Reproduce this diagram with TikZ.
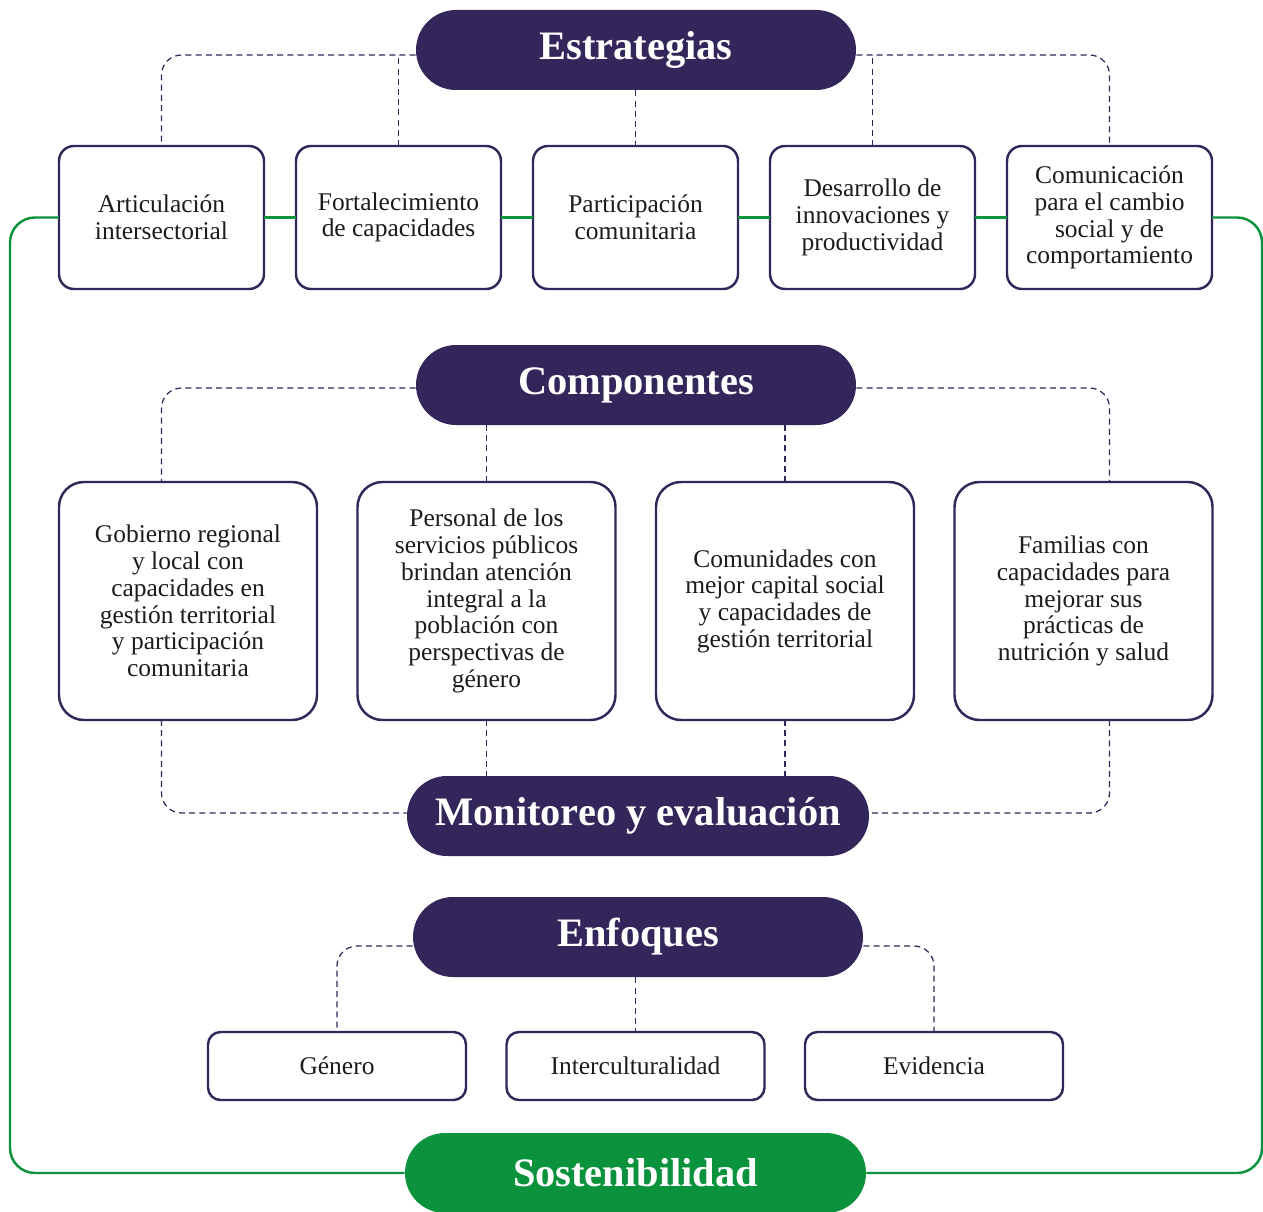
\documentclass[tikz,border=0pt]{standalone}
\usepackage{fontspec}
\setmainfont{Liberation Serif}
\usepackage{tikz}
\usetikzlibrary{calc,positioning}
\definecolor{inkpurple}{HTML}{33265B}
\definecolor{leafgreen}{HTML}{0A923C}
\definecolor{bodyink}{HTML}{1C1C1C}

\begin{document}
\begin{tikzpicture}[node distance=0.64cm and 0.64cm,
    pill/.style={rounded corners=0.8cm,fill=inkpurple,text=white,inner sep=0pt,
      minimum height=1.6cm,font=\fontsize{23}{26}\selectfont\bfseries},
    infobox/.style={draw=inkpurple,line width=1.4pt,fill=white,text=bodyink,outer sep=0pt,
      align=center,inner sep=2pt,font=\fontsize{14.5}{15.2}\selectfont},
    stratbox/.style={infobox,rounded corners=0.3cm,minimum width=4.1cm,minimum height=2.86cm},
    compbox/.style={infobox,rounded corners=0.5cm,minimum width=5.16cm,minimum height=4.76cm},
    focusbox/.style={infobox,rounded corners=0.25cm,minimum width=5.16cm,minimum height=1.36cm},
    dashline/.style={draw=inkpurple,line width=0.7pt,dash pattern=on 3.4pt off 2.4pt,rounded corners=0.4cm},
    greenline/.style={draw=leafgreen,line width=1.4pt,rounded corners=0.5cm}]
    \useasboundingbox (0,0) rectangle (25.26,-24.22);
    % titles
    \node[pill,minimum width=8.8cm] (estr) at (12.72,-1.0) {Estrategias};
    \node[pill,minimum width=8.8cm] (comp) at (12.72,-7.7) {Componentes};
    \node[pill,minimum width=9.24cm] (mon) at (12.76,-16.32) {Monitoreo y evaluación};
    \node[pill,minimum width=9.0cm] (enf) at (12.76,-18.74) {Enfoques};
    \node[pill,minimum width=9.22cm,fill=leafgreen] (sost) at (12.71,-23.46) {Sostenibilidad};
    % strategies
    \node[stratbox] (s1) at (3.23,-4.35) {Articulación\\intersectorial};
    \node[stratbox,right=of s1] (s2) {Fortalecimiento\\de capacidades};
    \node[stratbox,right=of s2] (s3) {Participación\\comunitaria};
    \node[stratbox,right=of s3] (s4) {Desarrollo de\\innovaciones y\\productividad};
    \node[stratbox,right=of s4] (s5) {Comunicación\\para el cambio\\social y de\\comportamiento};
    % components
    \node[compbox] (c1) at (3.76,-12.02) {Gobierno regional\\y local con\\capacidades en\\gestión territorial\\y participación\\comunitaria};
    \node[compbox,right=0.81cm of c1] (c2) {Personal de los\\servicios públicos\\brindan atención\\integral a la\\población con\\perspectivas de\\género};
    \node[compbox,right=0.81cm of c2] (c3) {Comunidades con\\mejor capital social\\y capacidades de\\gestión territorial};
    \node[compbox,right=0.81cm of c3] (c4) {Familias con\\capacidades para\\mejorar sus\\prácticas de\\nutrición y salud};
    % approaches
    \node[focusbox] (e1) at (6.74,-21.32) {Género};
    \node[focusbox,right=0.81cm of e1] (e2) {Interculturalidad};
    \node[focusbox,right=0.81cm of e2] (e3) {Evidencia};
    % dashed links
    \coordinate (estrL) at ([yshift=-1mm]estr.west);
    \coordinate (estrR) at ([yshift=-1mm]estr.east);
    \draw[dashline] (estrL) -| (s1.north);
    \draw[dashline] (estrR) -| (s5.north);
    \draw[dashline] (s2.north) -- (s2.north |- estrL);
    \draw[dashline] (s4.north) -- (s4.north |- estrR);
    \draw[dashline] (s3.north |- estr.south) -- (s3.north);
    \coordinate (compL) at ([yshift=-0.6mm]comp.west);
    \coordinate (compR) at ([yshift=-0.6mm]comp.east);
    \draw[dashline] (compL) -| (s1 |- c1.north);
    \draw[dashline] (compR) -| (s5 |- c4.north);
    \draw[dashline] (c2.north) -- (c2.north |- comp.south);
    \draw[dashline] (c3.north) -- (c3.north |- comp.south);
    \coordinate (monL) at ([yshift=0.6mm]mon.west);
    \coordinate (monR) at ([yshift=0.6mm]mon.east);
    \draw[dashline] (s1 |- c1.south) |- (monL);
    \draw[dashline] (s5 |- c4.south) |- (monR);
    \draw[dashline] (c2.south) -- (c2.south |- mon.north);
    \draw[dashline] (c3.south) -- (c3.south |- mon.north);
    \coordinate (enfL) at ([yshift=-1.8mm]enf.west);
    \coordinate (enfR) at ([yshift=-1.8mm]enf.east);
    \draw[dashline] (enfL) -| (e1.north);
    \draw[dashline] (enfR) -| (e3.north);
    \draw[dashline] (e2.north |- enf.south) -- (e2.north);
    % green frame
    \draw[greenline] (s1.west) -- ++(-0.98,0) |- (sost.west);
    \draw[greenline] (s5.east) -- ++(1.0,0) |- (sost.east);
    \foreach \a/\b in {s1/s2,s2/s3,s3/s4,s4/s5}
      \draw[greenline] (\a.east) -- (\b.west);
  \end{tikzpicture}
\end{document}
